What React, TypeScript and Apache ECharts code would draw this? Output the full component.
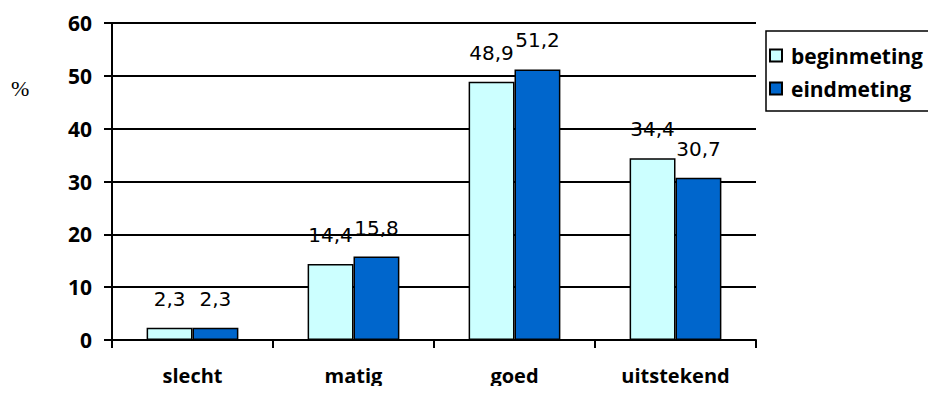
import React, { useEffect, useRef } from "react";
import * as echarts from "echarts";

const categories = ["slecht", "matig", "goed", "uitstekend"];
const beginmeting = [2.3, 14.4, 48.9, 34.4];
const eindmeting = [2.3, 15.8, 51.2, 30.7];
const seriesNames = ["beginmeting", "eindmeting"];
const yTicks = { min: 0, max: 60, interval: 10 };

const BOLD_FONT = "'Open Sans', 'Noto Sans', sans-serif";
const VALUE_FONT = "'DejaVu Sans', Verdana, sans-serif";

const fmt = (v: number) => String(v).replace(".", ",");

export default function App() {
  const ref = useRef<HTMLDivElement>(null);

  useEffect(() => {
    if (!ref.current) return;
    const chart = echarts.init(ref.current, undefined, { renderer: "svg" });

    const valueLabel = {
      show: true,
      position: "top" as const,
      distance: 19,
      color: "#000",
      fontFamily: VALUE_FONT,
      fontSize: 20,
      formatter: (p: any) => fmt(p.value),
    };
    const barBorder = { borderColor: "#000", borderWidth: 1.5 };

    chart.setOption({
      animation: false,
      backgroundColor: "#fff",
      grid: { left: 112, right: 180, top: 23, bottom: 54 },
      legend: {
        orient: "vertical",
        left: 766,
        top: 31,
        width: 169,
        data: seriesNames,
        borderColor: "#000",
        borderWidth: 1.5,
        padding: [14, 30, 12, 3],
        itemGap: 12,
        itemWidth: 12,
        itemHeight: 12,
        icon: "rect",
        textStyle: {
          fontFamily: BOLD_FONT,
          fontWeight: "bold",
          fontSize: 21,
          color: "#000",
          padding: [0, 0, 0, 4],
        },
      },
      xAxis: {
        type: "category",
        data: categories,
        axisLine: { show: true, lineStyle: { color: "#000", width: 2 } },
        axisTick: { show: true, length: 8, lineStyle: { color: "#000", width: 2 } },
        axisLabel: {
          margin: 25,
          color: "#000",
          fontFamily: BOLD_FONT,
          fontWeight: "bold",
          fontSize: 20,
        },
      },
      yAxis: {
        type: "value",
        min: yTicks.min,
        max: yTicks.max,
        interval: yTicks.interval,
        axisLine: { show: true, lineStyle: { color: "#000", width: 2 } },
        axisTick: { show: true, length: 8, lineStyle: { color: "#000", width: 2 } },
        splitLine: { show: true, lineStyle: { color: "#000", width: 2 } },
        axisLabel: {
          margin: 20,
          color: "#000",
          fontFamily: BOLD_FONT,
          fontWeight: "bold",
          fontSize: 21,
        },
      },
      graphic: [
        {
          type: "text",
          left: 11,
          top: 77,
          style: {
            text: "%",
            fill: "#000",
            fontFamily: "'Liberation Serif', serif",
            fontSize: 22,
          },
        },
      ],
      series: [
        {
          name: seriesNames[0],
          type: "bar",
          data: beginmeting,
          barGap: "0%",
          barCategoryGap: "43%",
          itemStyle: { color: "#CCFFFF", ...barBorder },
          label: valueLabel,
        },
        {
          name: seriesNames[1],
          type: "bar",
          data: eindmeting,
          itemStyle: { color: "#0066CC", ...barBorder },
          label: valueLabel,
        },
      ],
    });

    return () => chart.dispose();
  }, []);

  return <div ref={ref} style={{ width: 936, height: 394, margin: -8 }} />;
}
